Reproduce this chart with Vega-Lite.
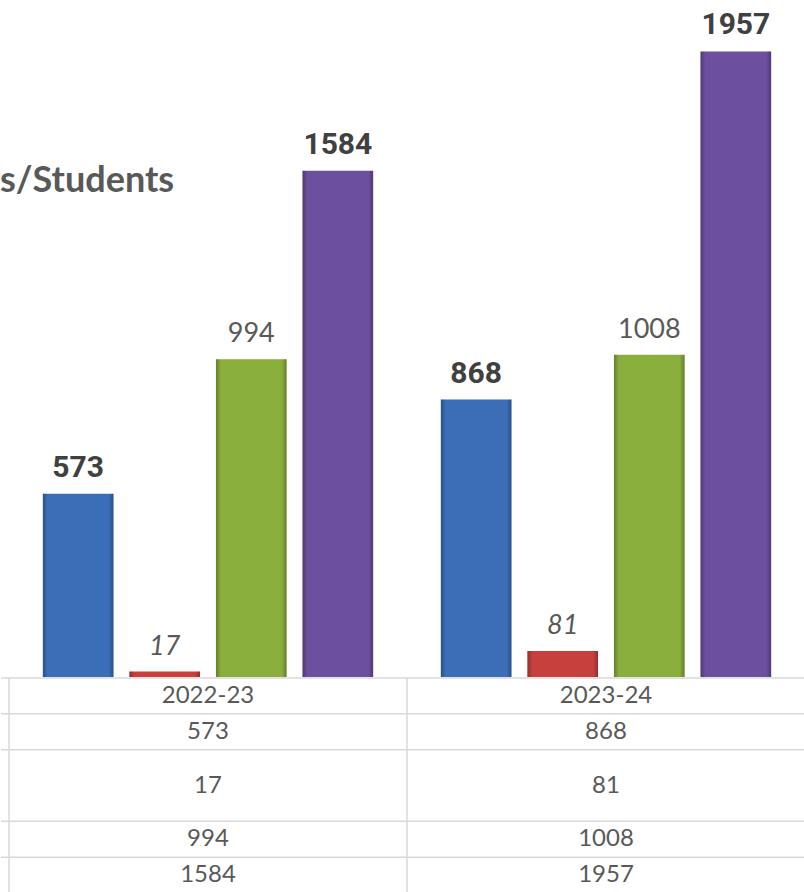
{
  "$schema": "https://vega.github.io/schema/vega-lite/v6.json",
  "padding": 0,
  "spacing": 0,
  "background": "white",
  "config": {"view": {"stroke": null}, "concat": {"spacing": 0}, "font": "Lato"},
  "datasets": {
    "bars": [
      {"year": "2022-23", "series": "Series 1", "value": 573},
      {"year": "2022-23", "series": "Series 2", "value": 17},
      {"year": "2022-23", "series": "Series 3", "value": 994},
      {"year": "2022-23", "series": "Series 4", "value": 1584},
      {"year": "2023-24", "series": "Series 1", "value": 868},
      {"year": "2023-24", "series": "Series 2", "value": 81},
      {"year": "2023-24", "series": "Series 3", "value": 1008},
      {"year": "2023-24", "series": "Series 4", "value": 1957}
    ],
    "table": [
      {"year": "2022-23", "line": "L0", "text": "2022-23"},
      {"year": "2022-23", "line": "L1", "text": "573"},
      {"year": "2022-23", "line": "L2", "text": "17"},
      {"year": "2022-23", "line": "L4", "text": "994"},
      {"year": "2022-23", "line": "L5", "text": "1584"},
      {"year": "2023-24", "line": "L0", "text": "2023-24"},
      {"year": "2023-24", "line": "L1", "text": "868"},
      {"year": "2023-24", "line": "L2", "text": "81"},
      {"year": "2023-24", "line": "L4", "text": "1008"},
      {"year": "2023-24", "line": "L5", "text": "1957"}
    ],
    "hlines": [{"line": "L0"}, {"line": "L1"}, {"line": "L2"}, {"line": "L4"}, {"line": "L5"}],
    "cols": [{"year": "2022-23"}, {"year": "2023-24"}]
  },
  "vconcat": [
    {
      "width": 804,
      "height": 677,
      "title": {"text": "s/Students", "anchor": "start", "frame": "group", "orient": "top", "offset": 0, "dy": 228, "dx": -1, "baseline": "alphabetic", "fontSize": 36, "fontWeight": "bold", "color": "#595959", "font": "Lato"},
      "data": {"name": "bars"},
      "encoding": {
        "x": {"field": "year", "type": "nominal", "scale": {"domain": ["2022-23", "2023-24"], "paddingInner": 0, "paddingOuter": 0.01005, "align": 1}, "axis": null},
        "xOffset": {"field": "series", "type": "nominal", "scale": {"domain": ["Series 1", "Series 2", "Series 3", "Series 4"], "paddingInner": 0.184, "paddingOuter": 0.391}},
        "y": {"field": "value", "type": "quantitative", "scale": {"domain": [0, 2118], "nice": false}, "axis": null}
      },
      "layer": [
        {
          "mark": {"type": "bar"},
          "encoding": {"color": {"field": "series", "type": "nominal", "scale": {"domain": ["Series 1", "Series 2", "Series 3", "Series 4"], "range": ["#3a6fb7", "#c8403e", "#8aae3c", "#6d4f9f"]}, "legend": null}}
        },
        {
          "mark": {"type": "bar", "color": {"gradient": "linear", "x1": 0, "x2": 1, "y1": 0, "y2": 0, "stops": [{"offset": 0, "color": "rgba(0,0,0,0.28)"}, {"offset": 0.07, "color": "rgba(0,0,0,0)"}, {"offset": 0.93, "color": "rgba(0,0,0,0)"}, {"offset": 1, "color": "rgba(0,0,0,0.28)"}]}}
        },
        {
          "transform": [{"filter": "datum.series === 'Series 1' || datum.series === 'Series 4'"}],
          "mark": {"type": "text", "baseline": "alphabetic", "dy": -17, "font": "Roboto", "fontWeight": "bold", "fontSize": 30, "color": "#404040"},
          "encoding": {"text": {"field": "value", "type": "quantitative"}}
        },
        {
          "transform": [{"filter": "datum.series === 'Series 3'"}],
          "mark": {"type": "text", "baseline": "alphabetic", "dy": -17, "font": "Lato", "fontSize": 27, "color": "#595959"},
          "encoding": {"text": {"field": "value", "type": "quantitative"}}
        },
        {
          "transform": [{"filter": "datum.series === 'Series 2'"}],
          "mark": {"type": "text", "baseline": "alphabetic", "dy": -17, "font": "Lato", "fontStyle": "italic", "fontSize": 27, "color": "#595959"},
          "encoding": {"text": {"field": "value", "type": "quantitative"}}
        }
      ]
    },
    {
      "width": 804,
      "height": 215,
      "layer": [
        {
          "data": {"name": "hlines"},
          "mark": {"type": "rule", "color": "#d9d9d9", "strokeWidth": 1.5},
          "encoding": {"y": {"field": "line", "type": "nominal", "bandPosition": 0, "scale": {"domain": ["L0", "L1", "L2", "L3", "L4", "L5"], "paddingInner": 0, "paddingOuter": 0}, "axis": null}}
        },
        {
          "data": {"name": "cols"},
          "mark": {"type": "rule", "color": "#d9d9d9", "strokeWidth": 1.5},
          "encoding": {"x": {"field": "year", "type": "nominal", "bandPosition": 0, "scale": {"domain": ["2022-23", "2023-24"], "paddingInner": 0, "paddingOuter": 0.01005, "align": 1}, "axis": null}}
        },
        {
          "data": {"name": "table"},
          "transform": [{"filter": "datum.line !== 'L2'"}],
          "mark": {"type": "text", "font": "Lato", "fontSize": 24, "color": "#595959"},
          "encoding": {
            "x": {"field": "year", "type": "nominal", "axis": null},
            "y": {"field": "line", "type": "nominal", "axis": null},
            "text": {"field": "text", "type": "nominal"}
          }
        },
        {
          "data": {"name": "table"},
          "transform": [{"filter": "datum.line === 'L2'"}],
          "mark": {"type": "text", "font": "Lato", "fontSize": 24, "color": "#595959"},
          "encoding": {
            "x": {"field": "year", "type": "nominal", "axis": null},
            "y": {"field": "line", "type": "nominal", "bandPosition": 1, "axis": null},
            "text": {"field": "text", "type": "nominal"}
          }
        }
      ]
    }
  ]
}
